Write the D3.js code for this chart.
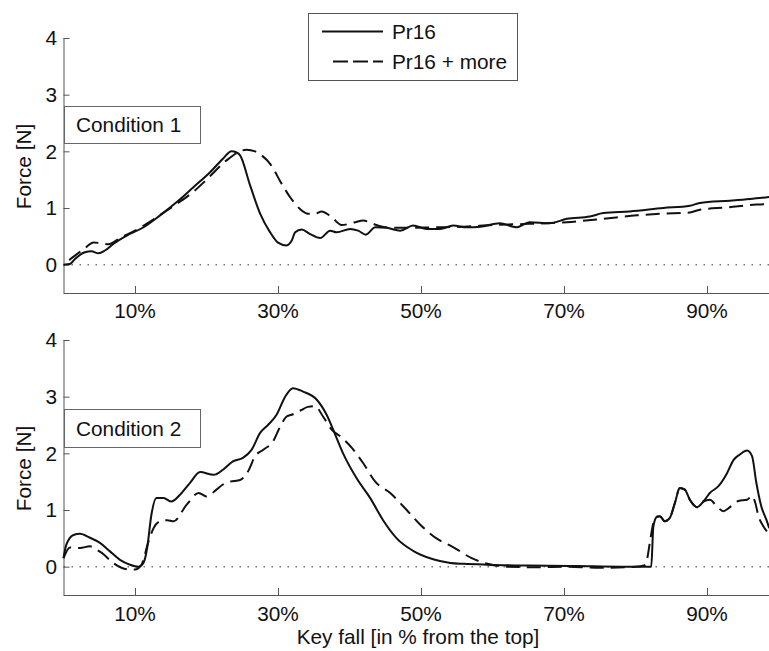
<!DOCTYPE html>
<html><head><meta charset="utf-8">
<script src="https://cdn.jsdelivr.net/npm/d3@7"></script>
<style>body{margin:0;background:#fff}svg{display:block}text{font-family:"Liberation Sans",Arial,sans-serif;fill:#111}</style>
</head><body>
<script>
// ---- data ----
const xTicks = [10, 30, 50, 70, 90];
const xTickLabels = ["10%", "30%", "50%", "70%", "90%"];
const yTicks = [0, 1, 2, 3, 4];
const seriesNames = ["Pr16", "Pr16 + more"];
const panelLabels = ["Condition 1", "Condition 2"];
const xLabel = "Key fall [in % from the top]";
const yLabel = "Force [N]";

const c1SolidX = [0,0.9,1.6,3.0,3.9,4.9,5.8,7,8.8,11.2,13.5,15.8,18.2,20.5,22.3,23.5,24.2,24.7,26.1,27.5,28.9,30,31.2,31.9,32.4,33.3,34.5,35.9,37.3,38.2,40.1,41.2,42.3,43.6,45.2,47.1,48.9,50.8,52.7,54.5,56.4,58.3,61.0,63.4,65.2,68.0,70.4,73.6,75.5,79.2,83.9,87.6,89.0,93.2,96,99];
const c1SolidY = [0,0.01,0.1,0.22,0.235,0.2,0.25,0.37,0.51,0.66,0.87,1.1,1.37,1.63,1.87,2.0,1.98,1.93,1.4,0.9,0.57,0.39,0.34,0.42,0.57,0.62,0.54,0.47,0.6,0.57,0.63,0.6,0.53,0.66,0.65,0.6,0.69,0.63,0.63,0.69,0.66,0.67,0.73,0.66,0.75,0.73,0.81,0.85,0.91,0.94,1.0,1.04,1.09,1.13,1.16,1.2];

const c1DashX = [0.8,1.6,2.9,4.2,5.2,6.3,7.9,10,12,13.8,15.8,18.2,20,22.8,24.7,25.6,26.8,27.8,28.9,30.5,31.7,33.1,34.2,35.2,36.1,37.5,38.9,40.8,41.9,43.3,45,48,52,56,60,65,70.4,75.5,80.2,83.9,87.6,89,92.8,96.9,99];
const c1DashY = [0.08,0.16,0.28,0.39,0.38,0.36,0.47,0.6,0.75,0.9,1.07,1.29,1.5,1.84,2.0,2.03,2.0,1.92,1.78,1.43,1.19,0.98,0.9,0.9,0.94,0.84,0.7,0.75,0.78,0.72,0.66,0.65,0.66,0.67,0.7,0.72,0.75,0.81,0.87,0.9,0.92,0.97,1.01,1.06,1.07];

const c2SolidX = [0,0.4,1.4,2.3,3.7,5.1,6.5,7.9,9.3,10.5,11.2,11.7,12.3,13,14,15.1,16.3,17.7,19.1,21,22.3,23.7,25.1,26.3,27.5,28.6,29.8,31,32.1,33.5,35.4,36.8,38,39.1,41,42.9,44.7,46.6,48.9,51.7,54.1,56,59.2,65,72,78,82.2,82.5,83,83.4,84.1,84.8,85.5,86.2,86.9,87.6,88.6,89.5,90.4,91.6,92.8,93.7,94.6,95.6,96.3,96.9,97.6,98.3,98.7];
const c2SolidY = [0.15,0.39,0.56,0.58,0.51,0.42,0.27,0.12,0.035,0,0.07,0.33,0.92,1.21,1.21,1.15,1.27,1.48,1.67,1.62,1.71,1.86,1.92,2.06,2.36,2.5,2.68,3.0,3.15,3.09,2.95,2.68,2.33,2.0,1.56,1.21,0.82,0.5,0.28,0.13,0.065,0.05,0.035,0.02,0.01,0.0,0.0,0.71,0.88,0.89,0.8,0.86,1.12,1.39,1.36,1.18,1.05,1.15,1.3,1.42,1.65,1.88,1.98,2.05,1.95,1.48,1.06,0.83,0.68];

const c2DashX = [0,0.9,2.3,3.7,4.6,5.6,6.7,8.1,9.2,10,10.9,11.9,12.6,13.5,14.5,15.4,17.2,18.9,20,21.4,22.3,23.3,24.7,25.8,26.8,27.9,29.3,30.3,31.2,32.1,33.2,34.2,35.2,36.3,37.5,38.7,40.3,41.9,43.6,45.7,48,49.9,52.4,54.3,57.1,59,62,66,70,75,80,81.2,81.6,82,82.5,83,83.4,84.1,84.8,85.5,86.2,86.9,87.6,88.6,89.5,90.4,91.4,92.3,93,93.7,94.4,95.6,96.3,96.7,97.2,97.9,98.6];
const c2DashY = [0.15,0.34,0.33,0.36,0.3,0.22,0.09,-0.02,-0.05,-0.05,0.035,0.45,0.68,0.8,0.82,0.8,1.09,1.3,1.24,1.36,1.45,1.5,1.53,1.68,1.95,2.06,2.21,2.47,2.65,2.69,2.76,2.82,2.83,2.65,2.42,2.3,2.1,1.83,1.5,1.3,1.0,0.74,0.48,0.36,0.15,0.06,0.0,-0.01,0.0,-0.02,0.0,0.02,0.12,0.42,0.77,0.88,0.89,0.8,0.86,1.12,1.39,1.36,1.18,1.05,1.15,1.18,1.06,0.98,1.03,1.1,1.16,1.18,1.25,1.15,0.89,0.71,0.59];

// ---- drawing ----
const W = 769, H = 651;
const FS = 20.8;
const svg = d3.select("body").append("svg").attr("width", W).attr("height", H);
const x = d3.scaleLinear().domain([0, 100]).range([63.5, 778.5]);
const axisColor = "#555";
const DASH = "14,7";

const panels = [
  {top: 38, bottom: 293, solid: [c1SolidX, c1SolidY], dash: [c1DashX, c1DashY], label: panelLabels[0], box: [106, 143], xlab: 318},
  {top: 340, bottom: 595, solid: [c2SolidX, c2SolidY], dash: [c2DashX, c2DashY], label: panelLabels[1], box: [409, 447], xlab: 621}
];

panels.forEach((p, i) => {
  const y = d3.scaleLinear().domain([-0.5, 4]).range([p.bottom, p.top]);
  const g = svg.append("g");
  g.append("line").attr("x1", x(0)).attr("x2", W).attr("y1", y(0)).attr("y2", y(0))
    .attr("stroke", "#777").attr("stroke-width", 1.5).attr("stroke-dasharray", "1.5,6.5");
  const ya = d3.axisRight(y).tickValues(yTicks).tickSize(6).tickFormat("");
  const yg = g.append("g").attr("transform", `translate(${x(0)},0)`).call(ya);
  yg.select(".domain").attr("stroke", axisColor).attr("d", `M0.5,${p.top}V${p.bottom}`);
  yg.selectAll(".tick line").attr("stroke", axisColor);
  g.selectAll(".ylab").data(yTicks).enter().append("text")
    .attr("x", 57).attr("y", d => y(d)).attr("dy", "0.36em").attr("text-anchor", "end")
    .attr("font-size", FS).text(d => d);
  const xa = d3.axisTop(x).tickValues(xTicks).tickSize(7).tickFormat("");
  const xg = g.append("g").attr("transform", `translate(0,${p.bottom})`).call(xa);
  xg.select(".domain").attr("stroke", axisColor).attr("d", `M${x(0)},0.5H${W}`);
  xg.selectAll(".tick line").attr("stroke", axisColor);
  g.selectAll(".xlab").data(xTicks).enter().append("text")
    .attr("x", d => x(d)).attr("y", p.xlab).attr("text-anchor", "middle")
    .attr("font-size", FS).text((d, k) => xTickLabels[k]);
  g.append("text").attr("transform", `translate(31,${(p.top + p.bottom) / 2 + 1}) rotate(-90)`)
    .attr("text-anchor", "middle").attr("font-size", FS).text(yLabel);
  const line = d3.line().x(d => x(d[0])).y(d => y(d[1])).curve(d3.curveMonotoneX);
  const solid = p.solid[0].map((v, k) => [v, p.solid[1][k]]);
  const dash = p.dash[0].map((v, k) => [v, p.dash[1][k]]);
  g.append("path").datum(dash).attr("d", line).attr("fill", "none")
    .attr("stroke", "#111").attr("stroke-width", 2).attr("stroke-dasharray", DASH);
  g.append("path").datum(solid).attr("d", line).attr("fill", "none")
    .attr("stroke", "#111").attr("stroke-width", 2);
  g.append("rect").attr("x", 64.5).attr("y", p.box[0] + 0.5).attr("width", 136).attr("height", p.box[1] - p.box[0])
    .attr("fill", "#fff").attr("stroke", "#666").attr("stroke-width", 1);
  g.append("text").attr("x", 76).attr("y", p.box[1] - 11).attr("font-size", FS).text(p.label);
});

const lg = svg.append("g");
lg.append("rect").attr("x", 308.5).attr("y", 13.5).attr("width", 209).attr("height", 67)
  .attr("fill", "#fff").attr("stroke", "#555").attr("stroke-width", 1);
lg.append("line").attr("x1", 322).attr("x2", 383).attr("y1", 31.5).attr("y2", 31.5)
  .attr("stroke", "#111").attr("stroke-width", 2);
lg.append("line").attr("x1", 333).attr("x2", 383).attr("y1", 61.5).attr("y2", 61.5)
  .attr("stroke", "#111").attr("stroke-width", 2).attr("stroke-dasharray", "15,5");
lg.append("text").attr("x", 392).attr("y", 39).attr("font-size", FS).text(seriesNames[0]);
lg.append("text").attr("x", 392).attr("y", 69).attr("font-size", FS).text(seriesNames[1]);

svg.append("text").attr("x", 418).attr("y", 644).attr("text-anchor", "middle").attr("font-size", FS).text(xLabel);
</script>
</body></html>
